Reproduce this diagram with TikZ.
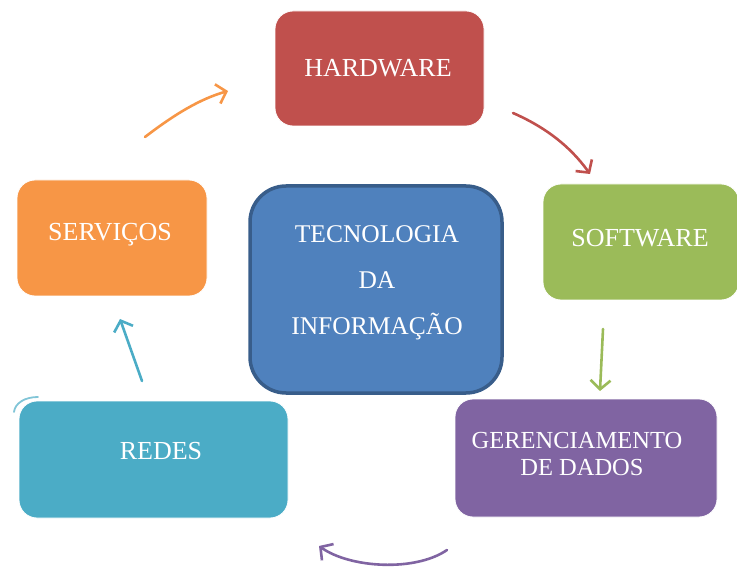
\documentclass[tikz,border=0pt]{standalone}
\usepackage{fontspec}
\setmainfont{Liberation Serif}
\usetikzlibrary{arrows.meta}
\definecolor{cred}{HTML}{C0504D}
\definecolor{cgreen}{HTML}{9BBB59}
\definecolor{cpurple}{HTML}{8064A2}
\definecolor{ccyan}{HTML}{4BACC6}
\definecolor{corange}{HTML}{F79646}
\definecolor{cblue}{HTML}{4F81BD}
\definecolor{cblueb}{HTML}{385D8A}
\tikzset{
  box/.style={rectangle, rounded corners=18pt, inner sep=0pt, draw=white, line width=0.8pt},
  lbl/.style={text=white, font=\fontsize{26}{30}\selectfont, align=center, inner sep=0pt},
  arr/.style={line width=2.6pt, line cap=round, -{Straight Barb[length=9pt,width=20pt,line width=2.6pt]}},
}
\begin{document}
\begin{tikzpicture}[x=1pt,y=-1pt]
\useasboundingbox (0,0) rectangle (737,572);
% boxes
\node[box, fill=cred, minimum width=209pt, minimum height=115pt] (hw) at (379.5,68.5) {};
\node[box, fill=cgreen, minimum width=196pt, minimum height=116pt] (sw) at (641,242) {};
\node[box, fill=cpurple, minimum width=262pt, minimum height=118pt] (gd) at (586,458) {};
\node[box, fill=ccyan, minimum width=269pt, minimum height=117pt] (rd) at (153.5,459.5) {};
\node[box, fill=corange, minimum width=190pt, minimum height=116pt] (sv) at (112,238) {};
\node[rectangle, rounded corners=36pt, fill=cblue, draw=cblueb, line width=3.5pt, minimum width=252pt, minimum height=207pt, inner sep=0pt] (ti) at (376,289.5) {};
% labels
\node[lbl] (hwt) at (378,68) {HARDWARE};
\node[lbl] (swt) at (640,238) {SOFTWARE};
\node[lbl, font=\fontsize{24.5}{28}\selectfont] (gdt) at (577,454) {GERENCIAMENTO\\[-1pt]\hspace*{10pt}DE DADOS};
\node[lbl] (rdt) at (161,451) {REDES};
\node[lbl] (svt) at (110,235) {SERVIÇOS};
\node[lbl, font=\fontsize{25.5}{46}\selectfont] (tit) at (377,283) {TECNOLOGIA\\DA\\INFORMAÇÃO};
% arrow end points
\coordinate (o1) at (145,137); \coordinate (o2) at (228,91);
\coordinate (r1) at (513,113); \coordinate (r2) at (590,174);
\coordinate (g1) at (603,329); \coordinate (g2) at (600,391);
\coordinate (p1) at (447,550); \coordinate (p2) at (319,546);
\coordinate (c1) at (142,381); \coordinate (c2) at (120,319);
\coordinate (s1) at (14,412); \coordinate (s2) at (38,397);
% arrows
\draw[arr, corange] (o1) .. controls (175,114) and (200,99) .. (o2);
\draw[arr, cred] (r1) .. controls (545,127) and (570,146) .. (r2);
\draw[arr, cgreen] (g1) .. controls (602,350) and (601,370) .. (g2);
\draw[arr, cpurple] (p1) .. controls (415,572) and (350,568) .. (p2);
\draw[arr, ccyan] (c1) -- (c2);
\draw[ccyan!70, line width=1.8pt, line cap=round] (s1) .. controls (15,403) and (25,397) .. (s2);
\end{tikzpicture}
\end{document}
